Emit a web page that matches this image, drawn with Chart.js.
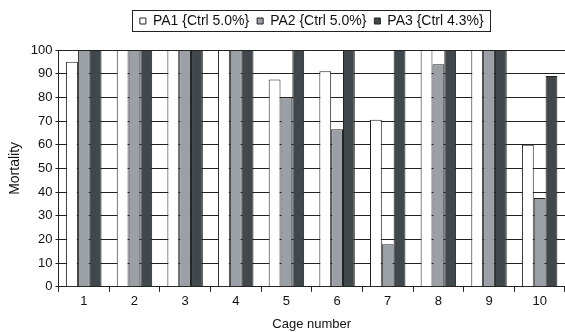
<!DOCTYPE html>
<html>
<head>
<meta charset="utf-8">
<script src="https://cdn.jsdelivr.net/npm/chart.js@4"></script>
<style>
  html, body { margin: 0; padding: 0; background: #fff; }
  #wrap { width: 565px; height: 332px; }
</style>
</head>
<body>
<div id="wrap"><canvas id="myChart" width="565" height="332"></canvas></div>
<script>
const cages = ['1', '2', '3', '4', '5', '6', '7', '8', '9', '10']
const pa1 = [95, 100, 100, 100, 87.5, 91, 70.5, 100, 100, 60]
const pa2 = [100, 100, 100, 100, 80, 66.5, 18, 94, 100, 37.5]
const pa3 = [100, 100, 100, 100, 100, 100, 100, 100, 100, 89]
const yTicks = [0, 10, 20, 30, 40, 50, 60, 70, 80, 90, 100]

const font = 'Liberation Sans, Arial, sans-serif'

// extra room under the legend, plus the frame round it
const legendFrame = {
  id: 'legendFrame',
  afterInit(chart) {
    const lg = chart.legend
    const fit = lg.fit
    lg.fit = function () {
      fit.call(lg)
      lg.height += 12
    }
  },
  afterDraw(chart) {
    const lg = chart.legend
    if (!lg || !lg.legendHitBoxes.length) return
    const boxes = lg.legendHitBoxes
    const w = lg.lineWidths[0]
    const cx = (lg.left + lg.right) / 2
    const top = Math.min(...boxes.map(b => b.top))
    const h = boxes[0].height
    const ctx = chart.ctx
    ctx.save()
    ctx.strokeStyle = '#222'
    ctx.lineWidth = 1
    ctx.strokeRect(Math.round(cx - w / 2 - 4) + 0.5, Math.round(top - 4) + 0.5, Math.round(w + 6), Math.round(h + 7))
    ctx.restore()
  }
}

const newChart = () => {
  const ctx = document.getElementById('myChart')
  const bar = (label, data, color) => ({
    label: label,
    data: data,
    backgroundColor: color,
    borderColor: '#222',
    borderWidth: 1,
    categoryPercentage: 0.7,
    barPercentage: 1.0
  })
  return new Chart(ctx, {
    type: 'bar',
    data: {
      labels: cages,
      datasets: [
        bar('PA1 {Ctrl 5.0%}', pa1, '#ffffff'),
        bar('PA2 {Ctrl 5.0%}', pa2, '#9ba0a6'),
        bar('PA3 {Ctrl 4.3%}', pa3, '#41484b')
      ]
    },
    options: {
      responsive: false,
      animation: false,
      layout: { padding: { left: 7, right: 0, top: 6, bottom: 0 } },
      plugins: {
        tooltip: { enabled: false },
        legend: {
          position: 'top',
          fullSize: false,
          labels: {
            boxWidth: 6,
            boxHeight: 6,
            padding: 8,
            color: '#111',
            font: { family: font, size: 14 }
          }
        }
      },
      scales: {
        x: {
          offset: true,
          grid: { offset: true, drawOnChartArea: false, drawTicks: true, tickLength: 5, color: '#222' },
          border: { color: '#222', width: 1 },
          ticks: { color: '#111', font: { family: font, size: 13 }, padding: 2 },
          title: { display: true, text: 'Cage number', color: '#111', font: { family: font, size: 13 }, padding: { top: 5, bottom: 0 } }
        },
        y: {
          min: 0,
          max: 100,
          afterBuildTicks: axis => { axis.ticks = yTicks.map(v => ({ value: v })) },
          grid: { color: '#222', tickLength: 3 },
          border: { color: '#222', width: 1 },
          ticks: { color: '#111', font: { family: font, size: 13 }, padding: 3 },
          title: { display: true, text: 'Mortality', color: '#111', font: { family: font, size: 14 }, padding: { top: 0, bottom: 4 } }
        }
      }
    },
    plugins: [legendFrame]
  })
}

const chart = newChart()
</script>
</body>
</html>
